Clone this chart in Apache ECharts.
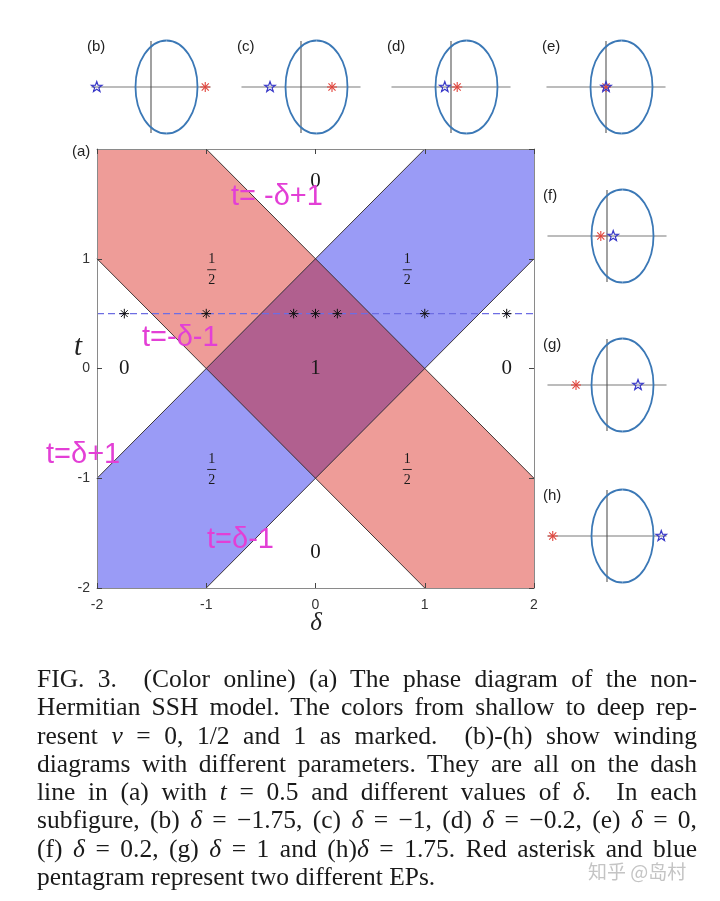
<!DOCTYPE html>
<html lang="en">
  <head>
    <meta charset="UTF-8" />
    <meta name="viewport" content="width=device-width, initial-scale=1.0" />
    <title>SSH phase diagram</title>
    <style>
      body { margin: 0; background: #fff; }
      #wrap { position: relative; width: 720px; height: 901px; }
      #chart { width: 720px; height: 901px; }
      #caption {
        position: absolute; left: 37px; top: 665px; width: 660px;
        font-family: 'Liberation Serif', serif; font-size: 25.5px;
        line-height: 28.3px; color: #1a1a1a;
      }
      #caption div { text-align: justify; text-align-last: justify; height: 28.3px; }
      #caption div.last { text-align-last: left; }
    </style>
  </head>
  <body>
    <div id="wrap">
      <div id="chart"></div>
      <div id="caption">
        <div>FIG. 3.&nbsp; (Color online) (a) The phase diagram of the non-</div>
        <div>Hermitian SSH model. The colors from shallow to deep rep-</div>
        <div>resent <i>ν</i> = 0, 1/2 and 1 as marked.&nbsp; (b)-(h) show winding</div>
        <div>diagrams with different parameters. They are all on the dash</div>
        <div>line in (a) with <i>t</i> = 0.5 and different values of <i>δ</i>.&nbsp; In each</div>
        <div>subfigure, (b) <i>δ</i> = −1.75, (c) <i>δ</i> = −1, (d) <i>δ</i> = −0.2, (e) <i>δ</i> = 0,</div>
        <div>(f) <i>δ</i> = 0.2, (g) <i>δ</i> = 1 and (h)<i>δ</i> = 1.75. Red asterisk and blue</div>
        <div class="last">pentagram represent two different EPs.</div>
      </div>
    </div>

    <script src="https://cdn.jsdelivr.net/npm/echarts@6.0.0/dist/echarts.min.js"></script>
    <script>
      // ---- data ----
      // phase regions in (delta, t)
      const redBand = [[-2, 2], [-1, 2], [2, -1], [2, -2], [1, -2], [-2, 1]];
      const blueBand = [[-2, -2], [-1, -2], [2, 1], [2, 2], [1, 2], [-2, -1]];
      const overlapRegion = [[-1, 0], [0, 1], [1, 0], [0, -1]];
      const boundaries = [
        [[-1, 2], [2, -1]],
        [[-2, 1], [1, -2]],
        [[-2, -1], [1, 2]],
        [[-1, -2], [2, 1]],
      ];
      const dashLine = [[-2, 0.5], [2, 0.5]];
      const sampleDelta = [-1.75, -1, -0.2, 0, 0.2, 1, 1.75];
      const sampleT = [0.5, 0.5, 0.5, 0.5, 0.5, 0.5, 0.5];

      // winding numbers written in the regions
      const labelText = ['0', '0', '0', '0', '1', '1/2', '1/2', '1/2', '1/2'];
      const labelDelta = [0, -1.75, 1.75, 0, 0, -0.95, 0.84, -0.95, 0.84];
      const labelT = [1.7, 0, 0, -1.68, 0, 0.9, 0.9, -0.92, -0.92];

      // winding panels (b)-(h)
      const panelNames = ['(b)', '(c)', '(d)', '(e)', '(f)', '(g)', '(h)'];
      const redEP = [1.75, 1, 0.2, 0, -0.2, -1, -1.75];
      const blueEP = [-1.75, -1, -0.2, 0, 0.2, 1, 1.75];
      const ellipseCenter = [0.5, 0];
      const ellipseRadii = [1, 1.5];
      const realAxisSpan = [-1.92, 1.92];
      const imagAxisSpan = [-1.48, 1.48];

      // handwritten notes
      const noteText = ['t= -δ+1', 't=-δ-1', 't=δ+1', 't=δ-1'];

      // ---- layout ----
      const panelOrigins = [[151, 87], [301, 87], [451, 87], [606, 87], [607, 236], [607, 385], [607, 536]];
      const unit = 31;
      const notePos = [[231, 197], [142, 338], [46, 455], [207, 540]];

      const mathFont = "'Liberation Serif', serif";
      const sansFont = "'Liberation Sans', Arial, sans-serif";

      function asterisk(p, r, color, w) {
        const children = [0, 45, 90, 135].map(function (a) {
          const c = Math.cos((a * Math.PI) / 180) * r;
          const s = Math.sin((a * Math.PI) / 180) * r;
          return {
            type: 'line',
            shape: { x1: p[0] - c, y1: p[1] - s, x2: p[0] + c, y2: p[1] + s },
            style: { stroke: color, lineWidth: w },
          };
        });
        return { type: 'group', children: children };
      }

      function pentagram(p, r, color) {
        const pts = [];
        for (let k = 0; k < 10; k++) {
          const a = -Math.PI / 2 + (k * Math.PI) / 5;
          const rr = k % 2 === 0 ? r : r * 0.4;
          pts.push([p[0] + rr * Math.cos(a), p[1] + rr * Math.sin(a)]);
        }
        return {
          type: 'polygon',
          shape: { points: pts },
          style: { fill: 'none', stroke: color, lineWidth: 1.2 },
        };
      }

      function ellipse(c, rx, ry, color) {
        const k = 0.5523;
        const segs = [
          [c[0] + rx, c[1], c[0] + rx, c[1] - k * ry, c[0] + k * rx, c[1] - ry, c[0], c[1] - ry],
          [c[0], c[1] - ry, c[0] - k * rx, c[1] - ry, c[0] - rx, c[1] - k * ry, c[0] - rx, c[1]],
          [c[0] - rx, c[1], c[0] - rx, c[1] + k * ry, c[0] - k * rx, c[1] + ry, c[0], c[1] + ry],
          [c[0], c[1] + ry, c[0] + k * rx, c[1] + ry, c[0] + rx, c[1] + k * ry, c[0] + rx, c[1]],
        ];
        return {
          type: 'group',
          children: segs.map(function (s) {
            return {
              type: 'bezierCurve',
              shape: { x1: s[0], y1: s[1], cpx1: s[2], cpy1: s[3], cpx2: s[4], cpy2: s[5], x2: s[6], y2: s[7] },
              style: { stroke: color, fill: 'none', lineWidth: 1.8 },
            };
          }),
        };
      }

      const grids = [{ left: 97, top: 149, width: 437, height: 439 }];
      const xAxes = [];
      const yAxes = [];
      const mainAxisLine = { show: true, onZero: false, lineStyle: { color: '#8a8a8a', width: 1 } };
      const mainTick = { show: true, inside: true, length: 5, lineStyle: { color: '#444' } };
      const mainLabel = { color: '#333', fontSize: 14, fontFamily: sansFont };

      ['bottom', 'top'].forEach(function (pos, i) {
        xAxes.push({
          gridIndex: 0, type: 'value', position: pos, min: -2, max: 2, interval: 1,
          axisLine: mainAxisLine, axisTick: mainTick,
          axisLabel: Object.assign({ show: i === 0, margin: 10 }, mainLabel),
          splitLine: { show: false }, z: 10,
        });
      });
      ['left', 'right'].forEach(function (pos, i) {
        yAxes.push({
          gridIndex: 0, type: 'value', position: pos, min: -2, max: 2, interval: 1,
          axisLine: mainAxisLine, axisTick: mainTick,
          axisLabel: Object.assign({ show: i === 0, margin: 7, showMaxLabel: false }, mainLabel),
          splitLine: { show: false }, z: 10,
        });
      });

      const series = [
        {
          type: 'custom', xAxisIndex: 0, yAxisIndex: 0, silent: true, z: 1,
          data: [[0, 0]],
          renderItem: function (params, api) {
            const poly = function (pts, color) {
              return {
                type: 'polygon',
                shape: { points: pts.map(function (p) { return api.coord(p); }) },
                style: { fill: color },
              };
            };
            const edges = boundaries.map(function (b) {
              const a = api.coord(b[0]);
              const c = api.coord(b[1]);
              return {
                type: 'line',
                shape: { x1: a[0], y1: a[1], x2: c[0], y2: c[1] },
                style: { stroke: '#2e2626', lineWidth: 1, opacity: 0.9 },
              };
            });
            return {
              type: 'group',
              children: [
                poly(redBand, '#ee9c98'),
                poly(blueBand, '#9a9bf6'),
                poly(overlapRegion, '#b1608f'),
              ].concat(edges),
            };
          },
        },
        {
          type: 'line', xAxisIndex: 0, yAxisIndex: 0, z: 3, silent: true,
          data: dashLine, showSymbol: false, symbol: 'none',
          lineStyle: { color: '#6d6de3', width: 1.2, type: [7, 4] },
        },
        {
          type: 'custom', xAxisIndex: 0, yAxisIndex: 0, z: 4, silent: true,
          data: sampleDelta.map(function (d, i) { return [d, sampleT[i]]; }),
          renderItem: function (params, api) {
            return asterisk(api.coord([api.value(0), api.value(1)]), 4.8, '#111', 1);
          },
        },
        {
          type: 'custom', xAxisIndex: 0, yAxisIndex: 0, z: 5, silent: true,
          data: labelDelta.map(function (d, i) { return [d, labelT[i]]; }),
          renderItem: function (params, api) {
            const p = api.coord([api.value(0), api.value(1)]);
            const txt = labelText[params.dataIndex];
            if (txt === '1/2') {
              return {
                type: 'group',
                children: [
                  { type: 'text', x: p[0], y: p[1] - 10, style: { text: '1', fontFamily: mathFont, fontSize: 14, fill: '#1a1a1a', align: 'center', verticalAlign: 'middle' } },
                  { type: 'line', shape: { x1: p[0] - 4.5, y1: p[1], x2: p[0] + 4.5, y2: p[1] }, style: { stroke: '#1a1a1a', lineWidth: 0.9 } },
                  { type: 'text', x: p[0], y: p[1] + 11, style: { text: '2', fontFamily: mathFont, fontSize: 14, fill: '#1a1a1a', align: 'center', verticalAlign: 'middle' } },
                ],
              };
            }
            return {
              type: 'text', x: p[0], y: p[1],
              style: { text: txt, fontFamily: mathFont, fontSize: 21, fill: '#1a1a1a', align: 'center', verticalAlign: 'middle' },
            };
          },
        },
      ];

      const graphics = [
        { type: 'text', x: 72, y: 152, style: { text: '(a)', fontFamily: sansFont, fontSize: 15, fill: '#222', align: 'left', verticalAlign: 'middle' } },
        { type: 'text', x: 316, y: 623, style: { text: 'δ', fontFamily: mathFont, fontStyle: 'italic', fontSize: 25, fill: '#222', align: 'center', verticalAlign: 'middle' } },
        { type: 'text', x: 78, y: 347, style: { text: 't', fontFamily: mathFont, fontStyle: 'italic', fontSize: 29, fill: '#222', align: 'center', verticalAlign: 'middle' } },
      ];

      panelOrigins.forEach(function (o, i) {
        grids.push({ left: o[0] - 2 * unit, top: o[1] - 1.6 * unit, width: 4 * unit, height: 3.2 * unit });
        xAxes.push({ gridIndex: i + 1, type: 'value', min: -2, max: 2, show: false });
        yAxes.push({ gridIndex: i + 1, type: 'value', min: -1.6, max: 1.6, show: false });
        series.push({
          type: 'custom', xAxisIndex: i + 2, yAxisIndex: i + 2, silent: true,
          data: [[sampleDelta[i], 0]],
          renderItem: function (params, api) {
            const h0 = api.coord([realAxisSpan[0], 0]);
            const h1 = api.coord([realAxisSpan[1], 0]);
            const v0 = api.coord([0, imagAxisSpan[0]]);
            const v1 = api.coord([0, imagAxisSpan[1]]);
            const c = api.coord(ellipseCenter);
            const r = api.size(ellipseRadii);
            return {
              type: 'group',
              children: [
                { type: 'line', shape: { x1: h0[0], y1: h0[1], x2: h1[0], y2: h1[1] }, style: { stroke: '#7a7a7a', lineWidth: 1.2 } },
                { type: 'line', shape: { x1: v0[0], y1: v0[1], x2: v1[0], y2: v1[1] }, style: { stroke: '#555', lineWidth: 1.1 } },
                ellipse(c, r[0], r[1], '#3b78b6'),
                asterisk(api.coord([redEP[i], 0]), 5, '#e2453c', 1.1),
                pentagram(api.coord([blueEP[i], 0]), 5.5, '#3838c8'),
              ],
            };
          },
        });
        graphics.push({
          type: 'text', x: o[0] - 64, y: o[1] - 40,
          style: { text: panelNames[i], fontFamily: sansFont, fontSize: 15, fill: '#222', align: 'left', verticalAlign: 'middle' },
        });
      });

      noteText.forEach(function (t, i) {
        graphics.push({
          type: 'text', x: notePos[i][0], y: notePos[i][1], z: 20,
          style: { text: t, fontFamily: sansFont, fontSize: 29, fill: '#e33fd6', align: 'left', verticalAlign: 'middle' },
        });
      });

      graphics.push({
        type: 'text', x: 588, y: 872, z: 20,
        style: { text: '知乎 @岛村', fontFamily: "'Noto Sans CJK SC', sans-serif", fontSize: 19, fill: '#c4c4c4', align: 'left', verticalAlign: 'middle' },
      });

      const chart = echarts.init(document.getElementById('chart'));
      chart.setOption({
        animation: false,
        backgroundColor: '#fff',
        grid: grids,
        xAxis: xAxes,
        yAxis: yAxes,
        series: series,
        graphic: graphics,
      });
    </script>
  </body>
</html>
